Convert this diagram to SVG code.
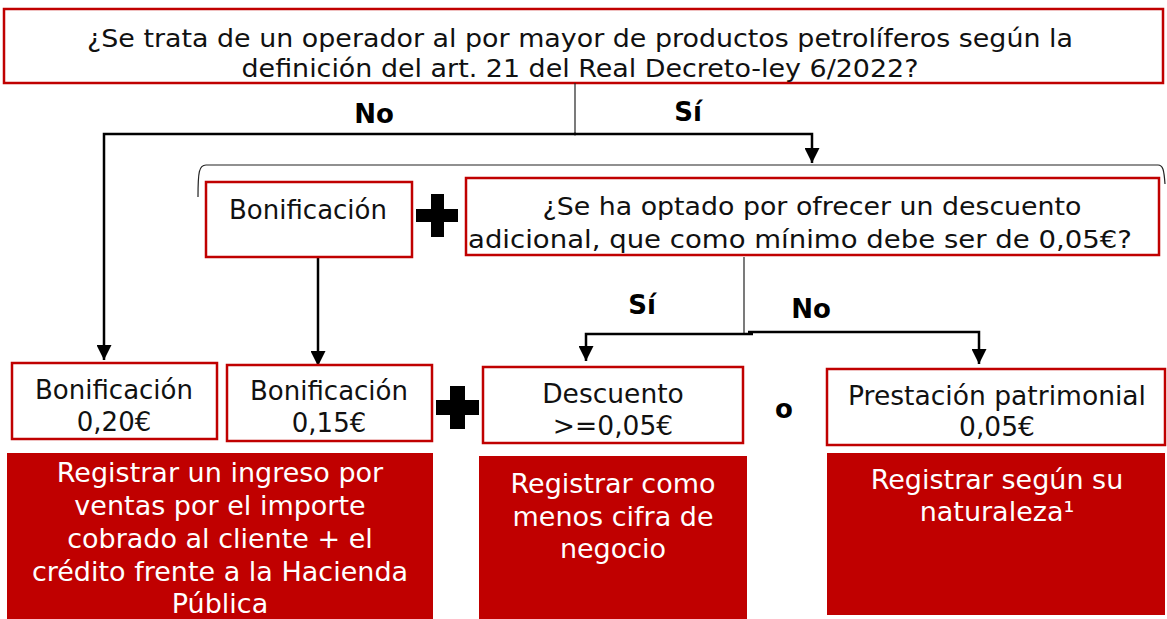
<svg xmlns="http://www.w3.org/2000/svg" width="1167" height="619" viewBox="0 0 1167 619">
<defs>
<style>
.box{fill:#fff;stroke:#c00000;stroke-width:2.5}
.red{fill:#c00000}
.t{font-family:"DejaVu Sans",Verdana,sans-serif;fill:#111;text-anchor:middle}
.w{font-family:"DejaVu Sans",Verdana,sans-serif;fill:#fff;text-anchor:middle;font-size:27px}
.b{font-family:"DejaVu Sans",Verdana,sans-serif;font-weight:bold;fill:#000;text-anchor:middle;font-size:26px}
.ln{fill:none;stroke:#000;stroke-width:2.5}
.thin{fill:none;stroke:#222;stroke-width:1.2}
.plus{fill:#000}
</style>
<marker id="ar" viewBox="0 0 10 10" refX="10" refY="5" markerWidth="15" markerHeight="15" markerUnits="userSpaceOnUse" orient="auto">
<path d="M0,0 L10,5 L0,10 z" fill="#000"/>
</marker>
</defs>
<rect width="1167" height="619" fill="#fff"/>

<g id="q1">
<rect class="box" x="4" y="9" width="1159" height="74"/>
<text class="t" font-size="25" x="580" y="47" textLength="986" lengthAdjust="spacingAndGlyphs">¿Se trata de un operador al por mayor de productos petrolíferos según la</text>
<text class="t" font-size="25" x="580" y="77" textLength="677" lengthAdjust="spacingAndGlyphs">definición del art. 21 del Real Decreto-ley 6/2022?</text>
</g>

<g id="connectors">
<line class="thin" x1="575" y1="83" x2="575" y2="134"/>
<path class="ln" d="M576,134 H104 V360" marker-end="url(#ar)"/>
<path class="ln" d="M574,134 H812 V163" marker-end="url(#ar)"/>
<path class="thin" d="M198,197 C198,172 199,165 206,165 H1158 C1163,165 1164,170 1165,184"/>
<line class="ln" x1="318" y1="257" x2="318" y2="366" marker-end="url(#ar)"/>
<line class="thin" x1="744" y1="257" x2="744" y2="334"/>
<path class="ln" d="M753,334 H586 V361" marker-end="url(#ar)"/>
<path class="ln" d="M748,332 H979 V364" marker-end="url(#ar)"/>
</g>

<g id="labels">
<text class="b" x="374" y="123">No</text>
<text class="b" x="688" y="121">Sí</text>
<text class="b" x="642" y="314">Sí</text>
<text class="b" x="811" y="318">No</text>
<text class="b" x="784" y="418">o</text>
</g>

<g id="bonif">
<rect class="box" x="206" y="182" width="206" height="75"/>
<text class="t" font-size="26" x="308" y="219" textLength="158" lengthAdjust="spacingAndGlyphs">Bonificación</text>
</g>

<g id="plus1"><path class="plus" d="M431,194 H444 V209 H458 V222 H444 V237 H431 V222 H416 V209 H431 z"/></g>

<g id="q2">
<rect class="box" x="466" y="178" width="693" height="77"/>
<text class="t" font-size="25" x="812" y="215" textLength="539" lengthAdjust="spacingAndGlyphs">¿Se ha optado por ofrecer un descuento</text>
<text class="t" font-size="25" x="800" y="248" textLength="664" lengthAdjust="spacingAndGlyphs">adicional, que como mínimo debe ser de 0,05€?</text>
</g>

<g id="b020">
<rect class="box" x="12" y="363" width="205" height="76"/>
<text class="t" font-size="26" x="114" y="399" textLength="158" lengthAdjust="spacingAndGlyphs">Bonificación</text>
<text class="t" font-size="26" x="114" y="431">0,20€</text>
</g>

<g id="b015">
<rect class="box" x="227" y="365" width="205" height="76"/>
<text class="t" font-size="26" x="329" y="400" textLength="158" lengthAdjust="spacingAndGlyphs">Bonificación</text>
<text class="t" font-size="26" x="329" y="432">0,15€</text>
</g>

<g id="plus2"><path class="plus" d="M450,386 H465 V400 H479 V415 H465 V429 H450 V415 H436 V400 H450 z"/></g>

<g id="desc">
<rect class="box" x="483" y="367" width="260" height="76"/>
<text class="t" font-size="26.5" x="613" y="403">Descuento</text>
<text class="t" font-size="26.5" x="613" y="435">&gt;=0,05€</text>
</g>

<g id="prest">
<rect class="box" x="827" y="369" width="338" height="76"/>
<text class="t" font-size="26.5" x="997" y="405" textLength="298" lengthAdjust="spacingAndGlyphs">Prestación patrimonial</text>
<text class="t" font-size="26.5" x="997" y="436">0,05€</text>
</g>

<g id="r1">
<rect class="red" x="7" y="453" width="426" height="166"/>
<text class="w" x="220" y="482">Registrar un ingreso por</text>
<text class="w" x="220" y="515">ventas por el importe</text>
<text class="w" x="220" y="548">cobrado al cliente + el</text>
<text class="w" x="220" y="581">crédito frente a la Hacienda</text>
<text class="w" x="220" y="613">Pública</text>
</g>

<g id="r2">
<rect class="red" x="479" y="456" width="268" height="163"/>
<text class="w" x="613" y="493">Registrar como</text>
<text class="w" x="613" y="526">menos cifra de</text>
<text class="w" x="613" y="558">negocio</text>
</g>

<g id="r3">
<rect class="red" x="827" y="453" width="338" height="162"/>
<text class="w" x="997" y="489">Registrar según su</text>
<text class="w" x="997" y="521">naturaleza¹</text>
</g>
</svg>
